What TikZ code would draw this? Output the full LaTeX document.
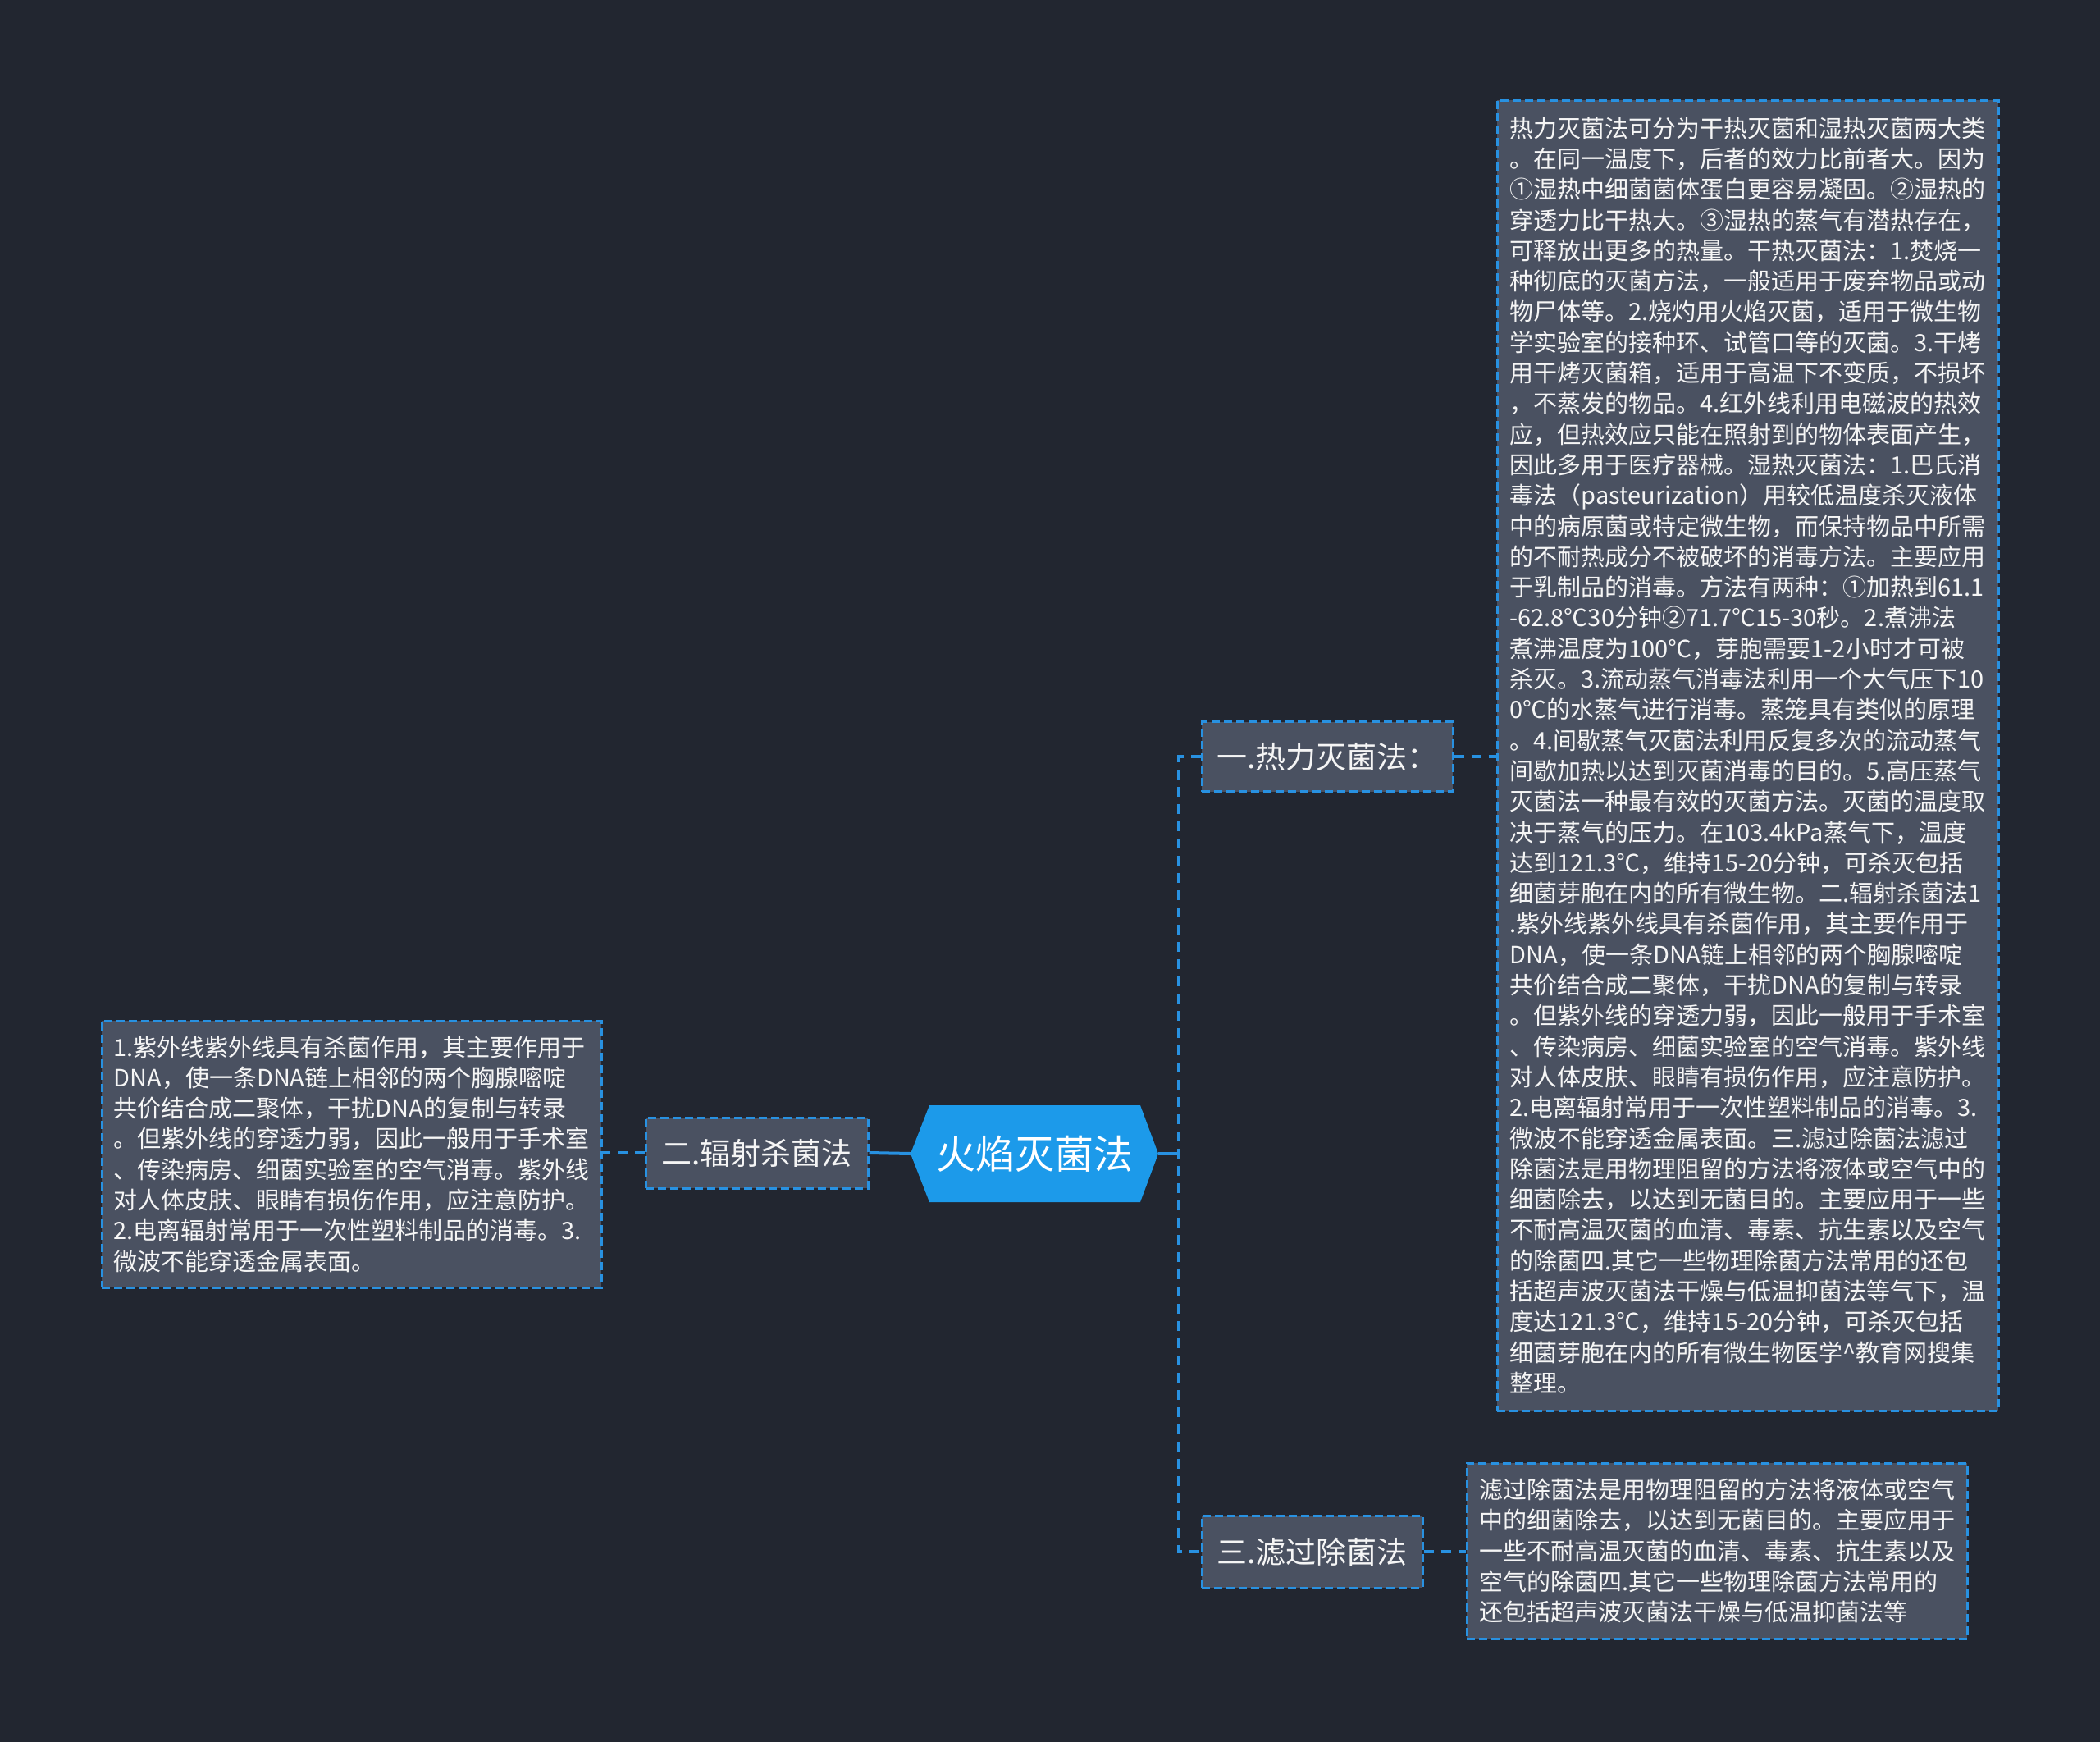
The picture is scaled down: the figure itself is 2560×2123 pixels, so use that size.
\documentclass[tikz,border=0pt]{standalone}
\usepackage{fontspec}
\setmainfont{Noto Sans CJK SC}
\definecolor{bgc}{RGB}{34,38,48}
\definecolor{boxc}{RGB}{74,81,97}
\definecolor{linec}{RGB}{40,145,225}
\definecolor{rootc}{RGB}{28,154,234}
\definecolor{txtc}{RGB}{245,245,245}
\tikzset{
  midbox/.style={draw=linec, line width=3pt, dash pattern=on 10pt off 5pt, fill=boxc,
    text=txtc, font=\fontsize{37}{44}\selectfont, inner sep=0pt},
  leafbox/.style={draw=linec, line width=3pt, dash pattern=on 10pt off 5pt, fill=boxc,
    text=txtc, font=\fontsize{29}{37.3}\selectfont, text width=580pt, align=left, inner xsep=14pt, inner ysep=0pt},
  sconn/.style={draw=linec, line width=4pt},
  dconn/.style={draw=linec, line width=4pt, dash pattern=on 12pt off 9pt},
}
\begin{document}
\begin{tikzpicture}[x=1pt,y=-1pt]
\fill[bgc] (0,0) rectangle (2560,2123);
\useasboundingbox (0,0) rectangle (2560,2123);

% root
\fill[rootc] (1110,1406) -- (1133,1347) -- (1390,1347) -- (1412,1406) -- (1390,1465) -- (1133,1465) -- cycle;
\node[text=white, font=\fontsize{48}{56}\selectfont, minimum width=302pt, minimum height=118pt, inner sep=0pt] (root) at (1261,1406) {火焰灭菌法};

% middle boxes
\node[midbox, minimum width=306pt, minimum height=85pt] (b1) at (1618,922) {一.热力灭菌法：};
\node[midbox, minimum width=271pt, minimum height=86pt] (b2) at (922.5,1405) {二.辐射杀菌法};
\node[midbox, minimum width=269pt, minimum height=88pt] (b3) at (1599.5,1891) {三.滤过除菌法};

% leaf boxes
\node[leafbox, minimum width=611pt, minimum height=1597pt] (l1) at (2130.5,920.5) {热力灭菌法可分为干热灭菌和湿热灭菌两大类\\
。在同一温度下，后者的效力比前者大。因为\\
①湿热中细菌菌体蛋白更容易凝固。②湿热的\\
穿透力比干热大。③湿热的蒸气有潜热存在，\\
可释放出更多的热量。干热灭菌法：1.焚烧一\\
种彻底的灭菌方法，一般适用于废弃物品或动\\
物尸体等。2.烧灼用火焰灭菌，适用于微生物\\
学实验室的接种环、试管口等的灭菌。3.干烤\\
用干烤灭菌箱，适用于高温下不变质，不损坏\\
，不蒸发的物品。4.红外线利用电磁波的热效\\
应，但热效应只能在照射到的物体表面产生，\\
因此多用于医疗器械。湿热灭菌法：1.巴氏消\\
毒法（pasteurization）用较低温度杀灭液体\\
中的病原菌或特定微生物，而保持物品中所需\\
的不耐热成分不被破坏的消毒方法。主要应用\\
于乳制品的消毒。方法有两种：①加热到61.1\\
-62.8℃30分钟②71.7℃15-30秒。2.煮沸法\\
煮沸温度为100℃，芽胞需要1-2小时才可被\\
杀灭。3.流动蒸气消毒法利用一个大气压下10\\
0℃的水蒸气进行消毒。蒸笼具有类似的原理\\
。4.间歇蒸气灭菌法利用反复多次的流动蒸气\\
间歇加热以达到灭菌消毒的目的。5.高压蒸气\\
灭菌法一种最有效的灭菌方法。灭菌的温度取\\
决于蒸气的压力。在103.4kPa蒸气下，温度\\
达到121.3℃，维持15-20分钟，可杀灭包括\\
细菌芽胞在内的所有微生物。二.辐射杀菌法1\\
.紫外线紫外线具有杀菌作用，其主要作用于\\
DNA，使一条DNA链上相邻的两个胸腺嘧啶\\
共价结合成二聚体，干扰DNA的复制与转录\\
。但紫外线的穿透力弱，因此一般用于手术室\\
、传染病房、细菌实验室的空气消毒。紫外线\\
对人体皮肤、眼睛有损伤作用，应注意防护。\\
2.电离辐射常用于一次性塑料制品的消毒。3.\\
微波不能穿透金属表面。三.滤过除菌法滤过\\
除菌法是用物理阻留的方法将液体或空气中的\\
细菌除去，以达到无菌目的。主要应用于一些\\
不耐高温灭菌的血清、毒素、抗生素以及空气\\
的除菌四.其它一些物理除菌方法常用的还包\\
括超声波灭菌法干燥与低温抑菌法等气下，温\\
度达121.3℃，维持15-20分钟，可杀灭包括\\
细菌芽胞在内的所有微生物医学\textasciicircum 教育网搜集\\
整理。};

\node[leafbox, minimum width=609pt, minimum height=325pt] (l2) at (428.5,1406.5) {1.紫外线紫外线具有杀菌作用，其主要作用于\\
DNA，使一条DNA链上相邻的两个胸腺嘧啶\\
共价结合成二聚体，干扰DNA的复制与转录\\
。但紫外线的穿透力弱，因此一般用于手术室\\
、传染病房、细菌实验室的空气消毒。紫外线\\
对人体皮肤、眼睛有损伤作用，应注意防护。\\
2.电离辐射常用于一次性塑料制品的消毒。3.\\
微波不能穿透金属表面。};

\node[leafbox, minimum width=610pt, minimum height=214pt] (l3) at (2093,1890) {滤过除菌法是用物理阻留的方法将液体或空气\\
中的细菌除去，以达到无菌目的。主要应用于\\
一些不耐高温灭菌的血清、毒素、抗生素以及\\
空气的除菌四.其它一些物理除菌方法常用的\\
还包括超声波灭菌法干燥与低温抑菌法等};

% connectors
\coordinate (t1) at (1437,922);
\coordinate (t3) at (1437,1891);
\draw[sconn] (b2.east) -- (root.west);
\draw[sconn] (root.east) -- (root.east -| t1);
\draw[dconn] (b1.west) -- (t1) -- (t3) -- (b3.west);
\draw[dconn] (b1.east) -- (l1.west |- b1.east);
\draw[dconn] (b2.west) -- (l2.east |- b2.west);
\draw[dconn] (b3.east) -- (l3.west |- b3.east);
\end{tikzpicture}
\end{document}
